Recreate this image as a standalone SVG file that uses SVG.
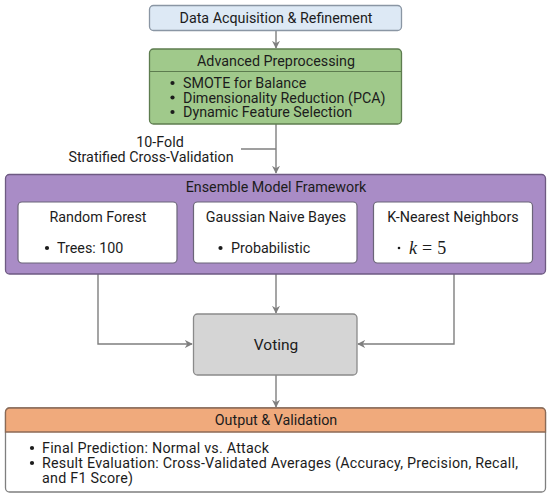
<svg xmlns="http://www.w3.org/2000/svg" width="550" height="497" viewBox="0 0 550 497">
<defs>
<marker id="arr" viewBox="0 0 10 10" refX="9" refY="5" markerWidth="8" markerHeight="8" markerUnits="userSpaceOnUse" orient="auto">
<path d="M0,0 L10,5 L0,10 L3,5 z" fill="#7f7f7f"/>
</marker>
<style>
text{font-family:Roboto,"Liberation Sans",sans-serif;font-size:14.3px;fill:#1c1c1c}
.c{text-anchor:middle}
.ln{stroke:#7f7f7f;stroke-width:1.4;fill:none}
.sub{fill:#ffffff;stroke:#6b6478;stroke-width:1.2}
.m{font-family:"Liberation Serif","DejaVu Serif",serif;font-size:18px}
.b{fill:#1c1c1c}
.o{letter-spacing:0.24px}
</style>
</defs>
<rect width="550" height="497" fill="#ffffff"/>

<g id="connectors">
<line class="ln" x1="276" y1="31" x2="276" y2="48" marker-end="url(#arr)"/>
<line class="ln" x1="276" y1="124" x2="276" y2="173" marker-end="url(#arr)"/>
<line class="ln" x1="241" y1="149" x2="276" y2="149"/>
<polyline class="ln" points="98,263 98,344 192,344" marker-end="url(#arr)"/>
<line class="ln" x1="276" y1="263" x2="276" y2="313" marker-end="url(#arr)"/>
<polyline class="ln" points="454,263 454,344 358,344" marker-end="url(#arr)"/>
<line class="ln" x1="276" y1="375" x2="276" y2="407" marker-end="url(#arr)"/>
<text class="c" x="160" y="146.5">10-Fold</text>
<text class="c" x="151" y="162">Stratified Cross-Validation</text>
</g>

<g id="data">
<rect x="149.5" y="5.5" width="252" height="25" rx="4" fill="#dde9f5" stroke="#8a96a4" stroke-width="1.3"/>
<text class="c" x="276" y="23">Data Acquisition &amp; Refinement</text>
</g>

<g id="preprocessing">
<rect x="149.5" y="49" width="252" height="75" rx="4" fill="#a0c98b" stroke="#5d7c4f" stroke-width="1.3"/>
<line x1="150" y1="71.5" x2="401" y2="71.5" stroke="#5d7c4f" stroke-width="1"/>
<text class="c" x="276" y="66">Advanced Preprocessing</text>
<circle class="b" cx="172.5" cy="83" r="2.1"/>
<circle class="b" cx="172.5" cy="97.5" r="2.1"/>
<circle class="b" cx="172.5" cy="112" r="2.1"/>
<text x="183" y="88">SMOTE for Balance</text>
<text x="183" y="102.5">Dimensionality Reduction (PCA)</text>
<text x="183" y="117">Dynamic Feature Selection</text>
</g>

<g id="ensemble">
<rect x="5.5" y="174.5" width="540" height="99.5" rx="4" fill="#a98cc6" stroke="#6e5a82" stroke-width="1.3"/>
<text class="c" x="276" y="192">Ensemble Model Framework</text>
</g>

<g id="rf">
<rect class="sub" x="18" y="202" width="159" height="61" rx="4"/>
<text class="c" x="98" y="222">Random Forest</text>
<circle class="b" cx="47" cy="248" r="2.1"/>
<text x="57" y="253">Trees: 100</text>
</g>

<g id="gnb">
<rect class="sub" x="193.5" y="202" width="163.5" height="61" rx="4"/>
<text class="c" x="276" y="222">Gaussian Naive Bayes</text>
<circle class="b" cx="220.5" cy="248" r="2.1"/>
<text x="231" y="253">Probabilistic</text>
</g>

<g id="knn">
<rect class="sub" x="373.5" y="202" width="159" height="61" rx="4"/>
<text class="c" x="453" y="222">K-Nearest Neighbors</text>
<circle class="b" cx="399" cy="248" r="1.3"/>
<text class="m" x="409" y="254"><tspan font-style="italic">k</tspan><tspan dx="5">=</tspan><tspan dx="5">5</tspan></text>
</g>

<g id="voting">
<rect x="193.5" y="314" width="163.5" height="61" rx="4" fill="#d5d5d5" stroke="#8a8a8a" stroke-width="1.3"/>
<text class="c" x="276" y="350" style="font-size:15.5px">Voting</text>
</g>

<g id="output">
<rect x="5.5" y="408" width="540" height="84" rx="4" fill="#ffffff" stroke="#7f7f7f" stroke-width="1.3"/>
<path d="M5.5,432 V412 a4,4 0 0 1 4,-4 H541.5 a4,4 0 0 1 4,4 V432 z" fill="#f0aa7c" stroke="#8c6a55" stroke-width="1.3"/>
<text class="c" x="276" y="425">Output &amp; Validation</text>
<circle class="b" cx="32" cy="448" r="2.1"/>
<circle class="b" cx="32" cy="463" r="2.1"/>
<text class="o" x="42" y="453">Final Prediction: Normal vs. Attack</text>
<text class="o" x="42" y="468">Result Evaluation: Cross-Validated Averages (Accuracy, Precision, Recall,</text>
<text class="o" x="42" y="483">and F1 Score)</text>
</g>
</svg>
